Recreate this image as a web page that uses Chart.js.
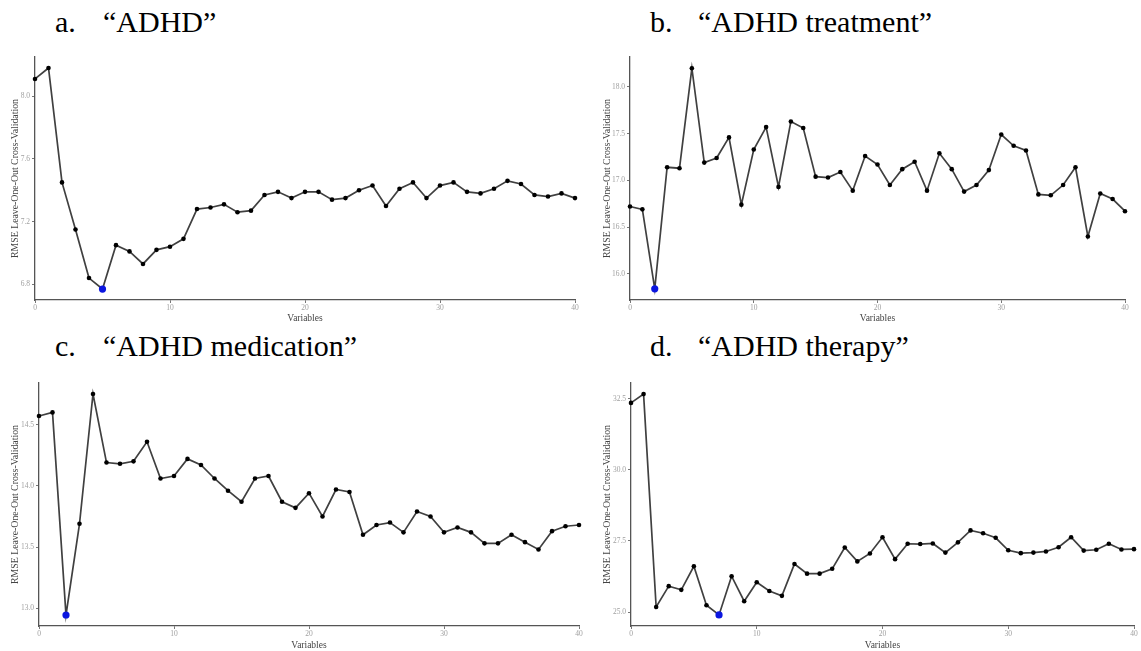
<!DOCTYPE html>
<html>
<head>
<meta charset="utf-8">
<script src="https://cdn.jsdelivr.net/npm/chart.js@4.4.1/dist/chart.umd.min.js"></script>
<style>
    html, body { margin: 0; padding: 0; background: #fff; overflow: hidden; }
    body { width: 1141px; height: 651px; position: relative; font-family: 'Liberation Serif', 'Times New Roman', serif; }
    canvas { position: absolute; }
    .title { position: absolute; font-size: 30px; line-height: 30px; color: #000; white-space: nowrap; }
</style>
</head>
<body>
<div class="title" style="left:55px; top:7px;">a.</div>
<div class="title" style="left:103px; top:7px;">“ADHD”</div>
<div class="title" style="left:650px; top:7px;">b.</div>
<div class="title" style="left:698px; top:7px;">“ADHD treatment”</div>
<div class="title" style="left:55px; top:331px;">c.</div>
<div class="title" style="left:103px; top:331px;">“ADHD medication”</div>
<div class="title" style="left:650px; top:331px;">d.</div>
<div class="title" style="left:698px; top:331px;">“ADHD therapy”</div>

<canvas id="chartA" width="590" height="280" style="left:0px; top:50px;"></canvas>
<canvas id="chartB" width="546" height="280" style="left:595px; top:50px;"></canvas>
<canvas id="chartC" width="586" height="275" style="left:4px; top:376px;"></canvas>
<canvas id="chartD" width="545" height="275" style="left:596px; top:376px;"></canvas>

<script>
// --- Data ---
const variables = [0, 1, 2, 3, 4, 5, 6, 7, 8, 9, 10, 11, 12, 13, 14, 15, 16, 17, 18, 19, 20,
    21, 22, 23, 24, 25, 26, 27, 28, 29, 30, 31, 32, 33, 34, 35, 36, 37, 38, 39, 40];
const xTicks = [0, 10, 20, 30, 40];

const rmseAdhd = [8.11, 8.18, 7.45, 7.15, 6.84, 6.77, 7.05, 7.01, 6.93, 7.02, 7.04,
    7.09, 7.28, 7.29, 7.31, 7.26, 7.27, 7.37, 7.39, 7.35, 7.39,
    7.39, 7.34, 7.35, 7.40, 7.43, 7.30, 7.41, 7.45, 7.35, 7.43,
    7.45, 7.39, 7.38, 7.41, 7.46, 7.44, 7.37, 7.36, 7.38, 7.35];
const rmseTreatment = [16.72, 16.69, 15.84, 17.14, 17.13, 18.20, 17.19, 17.24, 17.46, 16.74, 17.33,
    17.57, 16.93, 17.63, 17.56, 17.04, 17.03, 17.09, 16.89, 17.26, 17.17,
    16.95, 17.12, 17.20, 16.89, 17.29, 17.12, 16.88, 16.95, 17.11, 17.49,
    17.37, 17.32, 16.85, 16.84, 16.95, 17.14, 16.40, 16.86, 16.80, 16.67];
const rmseMedication = [14.57, 14.60, 12.945, 13.69, 14.75, 14.19, 14.18, 14.20, 14.36, 14.06, 14.08,
    14.22, 14.17, 14.06, 13.96, 13.87, 14.06, 14.08, 13.87, 13.82, 13.94,
    13.75, 13.97, 13.95, 13.60, 13.68, 13.70, 13.62, 13.79, 13.75, 13.62,
    13.66, 13.62, 13.53, 13.53, 13.60, 13.54, 13.48, 13.63, 13.67, 13.68];
const rmseTherapy = [32.35, 32.66, 25.18, 25.91, 25.78, 26.61, 25.24, 24.90, 26.26, 25.38, 26.05,
    25.74, 25.57, 26.69, 26.35, 26.35, 26.52, 27.27, 26.78, 27.06, 27.63,
    26.86, 27.40, 27.39, 27.41, 27.09, 27.45, 27.87, 27.77, 27.61, 27.17,
    27.07, 27.09, 27.13, 27.28, 27.63, 27.16, 27.19, 27.40, 27.20, 27.21];

const yTicksAdhd = [6.8, 7.2, 7.6, 8.0];
const yTicksTreatment = [16.0, 16.5, 17.0, 17.5, 18.0];
const yTicksMedication = [13.0, 13.5, 14.0, 14.5];
const yTicksTherapy = [25.0, 27.5, 30.0, 32.5];

const yTitle = 'RMSE Leave-One-Out Cross-Validation';
const xTitle = 'Variables';

document.addEventListener('DOMContentLoaded', function () {

    Chart.defaults.font.family = "'Liberation Serif', 'Times New Roman', serif";

    // --- Panels ---
    makePanel('chartA', rmseAdhd, yTicksAdhd, { yMin: 6.70, yMax: 8.25, padRight: 15, xHeight: 30, titleBottom: 6, yTitlePad: 10 });
    makePanel('chartB', rmseTreatment, yTicksTreatment, { yMin: 15.72, yMax: 18.32, padRight: 16, xHeight: 30, titleBottom: 6, yTitlePad: 7 });
    makePanel('chartC', rmseMedication, yTicksMedication, { yMin: 12.855, yMax: 14.84, padRight: 11, xHeight: 25, titleBottom: 0, yTitlePad: 6 });
    makePanel('chartD', rmseTherapy, yTicksTherapy, { yMin: 24.51, yMax: 33.05, padRight: 7, xHeight: 25, titleBottom: 0, yTitlePad: 6 });

    function makePanel(id, values, yTicks, opt) {
        const ctx = document.getElementById(id).getContext('2d');
        const minIdx = values.indexOf(Math.min(...values));

        return new Chart(ctx, {
            type: 'line',
            data: {
                datasets: [{
                    data: values.map((v, i) => ({ x: variables[i], y: v })),
                    borderColor: '#404040',
                    borderWidth: 1.7,
                    tension: 0,
                    clip: false,
                    pointRadius: c => c.dataIndex === minIdx ? 3.6 : 2.3,
                    pointBackgroundColor: c => c.dataIndex === minIdx ? '#0b16e0' : '#000',
                    pointBorderColor: c => c.dataIndex === minIdx ? '#0b16e0' : '#000',
                    pointBorderWidth: 0
                }]
            },
            options: {
                responsive: false,
                animation: false,
                events: [],
                layout: { padding: { top: 7, right: opt.padRight, left: 0, bottom: 0 } },
                plugins: { legend: { display: false }, tooltip: { enabled: false } },
                scales: {
                    x: {
                        type: 'linear',
                        min: 0,
                        max: 40,
                        afterBuildTicks: s => { s.ticks = xTicks.map(v => ({ value: v })); },
                        afterFit: s => { s.height = opt.xHeight; },
                        grid: { drawOnChartArea: false, drawTicks: true, tickLength: 3, color: '#777', lineWidth: 1 },
                        border: { display: true, color: '#555', width: 1.3 },
                        ticks: { color: '#a0a0a0', padding: 1, font: { size: 7.5 }, maxRotation: 0 },
                        title: { display: true, text: xTitle, color: '#444', font: { size: 9.5 }, padding: { top: 0, bottom: opt.titleBottom } }
                    },
                    y: {
                        min: opt.yMin,
                        max: opt.yMax,
                        afterBuildTicks: s => { s.ticks = yTicks.map(v => ({ value: v })); },
                        afterFit: s => { s.width = 35; },
                        grid: { drawOnChartArea: false, drawTicks: true, tickLength: 3, color: '#777', lineWidth: 1 },
                        border: { display: true, color: '#555', width: 1.3 },
                        ticks: { color: '#a0a0a0', padding: 2, font: { size: 7.5 }, callback: v => v.toFixed(1) },
                        title: { display: true, text: yTitle, color: '#444', font: { size: 9.8 }, padding: { top: opt.yTitlePad, bottom: 0 } }
                    }
                }
            }
        });
    }
});
</script>
</body>
</html>
